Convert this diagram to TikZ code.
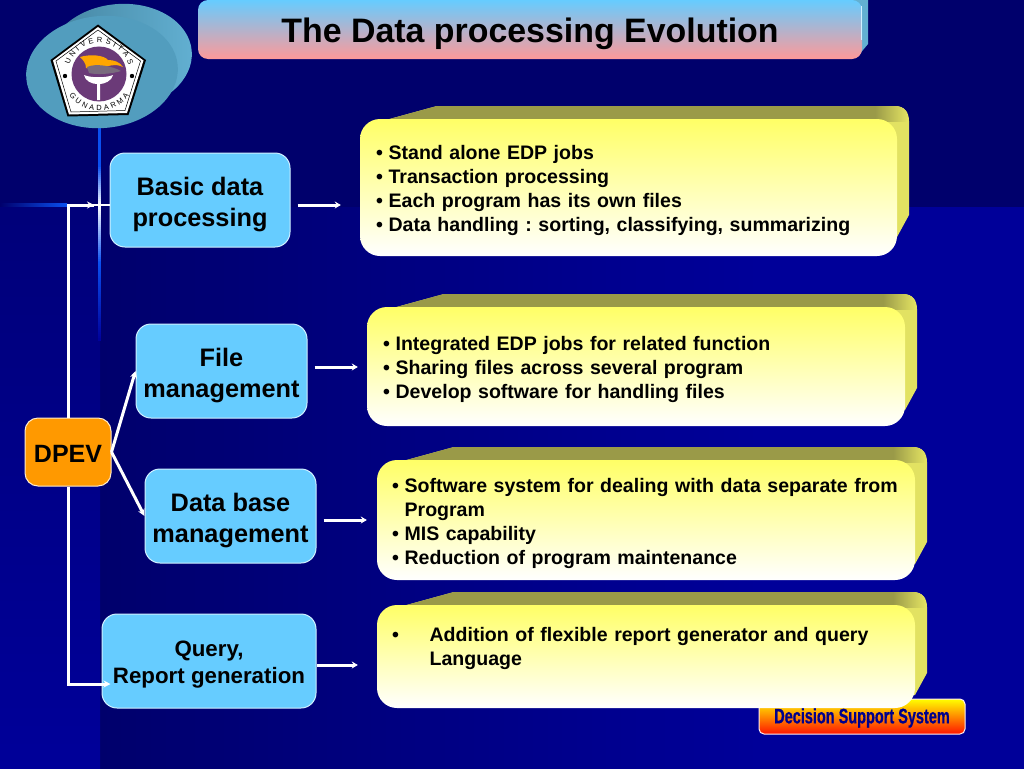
\documentclass[tikz,border=0pt]{standalone}
\usepackage{fontspec}
\setmainfont{Liberation Sans}
\newfontfamily\impactface[FakeStretch=0.69,FakeBold=0.6]{Liberation Sans}
\usetikzlibrary{arrows.meta,shapes.geometric,decorations.text,calc}
\frenchspacing
\definecolor{navy}{HTML}{00006C}
\definecolor{brightnavy}{HTML}{000099}
\definecolor{sky}{HTML}{66CCFF}
\definecolor{skyline}{HTML}{D0F0FF}
\definecolor{peach}{HTML}{FF9999}
\definecolor{lemon}{HTML}{FFFF66}
\definecolor{olive}{HTML}{9A9A48}
\definecolor{lemonside}{HTML}{E2E262}
\definecolor{glow}{HTML}{0A50F0}
\definecolor{grape}{HTML}{6B3A78}
\definecolor{tealfront}{HTML}{529DBE}
\definecolor{tealdark}{HTML}{44839F}
\definecolor{teallight}{HTML}{62B0D2}
\definecolor{dpevorange}{HTML}{FF9900}
\tikzset{
  sqbox/.style={draw=skyline,line width=1pt,fill=sky,rounded corners=15pt,inner sep=0pt,align=center,
    font=\fontsize{25.3}{31}\selectfont\bfseries,text=black},
  smallsq/.style={sqbox,font=\fontsize{22.3}{27}\selectfont\bfseries},
  orangebox/.style={draw=white!80!dpevorange,line width=1pt,fill=dpevorange,rounded corners=13pt,inner sep=0pt,
    font=\fontsize{25}{31}\selectfont\bfseries,text=black},
  yellowbox/.style={top color=lemon,bottom color=white,rounded corners=20pt,inner sep=0pt,
    font=\fontsize{19.55}{24}\selectfont\bfseries,text=black},
  link/.style={draw=white,line width=3pt},
  linktip/.style={link,-{Stealth[length=7pt,width=7pt]}},
  feed/.style={draw=white,line width=3pt,-{Stealth[length=6pt,width=7pt]}},
}
\newcommand{\bul}[1]{\makebox[12.6pt][l]{•}\mbox{#1}}
\newcommand{\dropby}[1]{\rule{0pt}{#1pt}}
% front x1,y1,x2,y2 ; side drop d1,d2
\newcommand{\bevelback}[6]{%
  \begin{scope}
  \clip ({#1+15},{#2+4}) -- ({#1+77},{#2-13}) -- ({#3-2},{#2-13})
    .. controls ({#3+7},{#2-13}) and ({#3+12},{#2-7}) .. ({#3+12},{#2+2})
    -- ({#3+12},{#4-#5}) -- ({#3},{#4-#6}) -- ({#3-30},{#4-#6}) -- cycle;
  \fill[lemonside] (#1,{#2-14}) rectangle ({#3+13},#4);
  \fill[olive] (#1,{#2-14}) rectangle ({#3-22},{#2+2});
  \shade[left color=olive,right color=lemonside] ({#3-22},{#2-14}) rectangle ({#3+10},{#2+2});
  \end{scope}}
\begin{document}
\begin{tikzpicture}[x=1pt,y=-1pt]
\useasboundingbox (0,0) rectangle (1024,768);
% background
\fill[navy] (-2,-2) rectangle (1026,207);
\shade[left color=navy,right color=brightnavy] (99,207) rectangle (760,770);
\fill[brightnavy] (759,207) rectangle (1026,770);
\shade[top color=navy!70!brightnavy,bottom color=brightnavy] (-2,207) rectangle (100,770);
% glow lines
\shade[left color=navy,right color=glow] (0,203.5) rectangle (67,206.5);
\fill[glow] (97.5,128) rectangle (100.5,165);
\foreach \t in {0,2,...,38}{
  \pgfmathsetmacro{\p}{\t/40*100}
  \fill[white!\p!glow] (97.5,165+\t) rectangle (100.5,167.5+\t);}
\foreach \t in {0,2,...,56}{
  \pgfmathsetmacro{\p}{100-\t/57*100}
  \fill[white!\p!glow] (97.5,205+\t) rectangle (100.5,207.5+\t);}
\foreach \t in {0,2,...,76}{
  \pgfmathsetmacro{\p}{\t/78*100}
  \fill[brightnavy!\p!glow] (97.5,262+\t) rectangle (100.5,264.5+\t);}
% logo
\shade[rotate around={5:(120,57)},left color=tealdark,right color=teallight] (120,57) ellipse [x radius=72,y radius=53];
\fill[tealfront,rotate around={5:(102,72)}] (102,72) ellipse [x radius=76,y radius=56];
\fill[black] (98,24.5) -- (146,60) -- (128.5,115) -- (67.5,116.5) -- (50.5,60) -- cycle;
\fill[white] (98,27) -- (143.5,60.5) -- (127,113) -- (69,114.5) -- (53,60.5) -- cycle;
\draw[black,line width=.5pt] (98,30) -- (140.5,61) -- (125,110.5) -- (71,112) -- (56,61) -- cycle;
\fill[grape] (99,74) circle [radius=27.5];
\fill[black] (65,76) circle [radius=2.2];
\fill[black] (132,76) circle [radius=2.2];
\path[decorate,decoration={text along path,text align={fit to path},text={|\fontsize{7.5}{8}\selectfont|UNIVERSITAS}}]
  (69.4,64.9) arc [start angle=163,end angle=17,radius=31pt];
\path[decorate,decoration={text along path,text align={fit to path},text={|\fontsize{7.5}{8}\selectfont|GUNADARMA}}]
  (69.1,95.7) arc [start angle=216,end angle=324,radius=37pt];
\fill[orange!70!yellow] (80,57) .. controls (90,54) and (104,55) .. (108,60) .. controls (114,60) and (120,62) .. (123,67) .. controls (112,62) and (110,68) .. (102,66) .. controls (96,69) and (90,69) .. (86,68) .. controls (86,63) and (83,60) .. (80,57) -- cycle;
\fill[gray!70!grape] (87,67) .. controls (96,63) and (112,66) .. (121,71) .. controls (112,74) and (96,75) .. (89,73) -- cycle;
\fill[white] (84,75) .. controls (90,78) and (107,78) .. (113,75) .. controls (112,81) and (104,84) .. (100,84) -- (100,100) -- (97,100) -- (97,84) .. controls (92,84) and (85,81) .. (84,75) -- cycle;
% title
\fill[teallight] (840,-2) -- (868,-2) -- (868,44) -- (858,56) -- (840,56) -- cycle;
\node[top color=sky,bottom color=peach,rounded corners=10pt,inner sep=0pt,minimum width=664pt,minimum height=59pt,
  font=\fontsize{33.9}{40}\selectfont\bfseries,text=black] (title) at (530,29.5) {\dropby{33}The Data processing Evolution};
\fill[skyline] (861,6) rectangle (862,40);
% footer tag
\node[top color=yellow,bottom color=red!85!orange,draw=white!85!peach,line width=1pt,rounded corners=5pt,inner sep=0pt,
  minimum width=206pt,minimum height=35pt,text=brightnavy!90!black,font=\impactface\fontsize{21}{24}\selectfont\bfseries] (dss) at (862,716.5) {\dropby{18}Decision Support System};
% yellow backs
\bevelback{360}{119}{897}{256}{41}{19}
\bevelback{367}{307}{905}{426}{38}{16}
\bevelback{377}{460}{915}{580}{38}{16}
\bevelback{377}{605}{915}{708}{35}{13}
% left boxes
\node[sqbox,minimum width=180pt,minimum height=94pt] (basic) at (200,200) {\dropby{28}Basic data\\processing};
\node[sqbox,minimum width=171pt,minimum height=94pt] (file) at (221.5,371) {\dropby{28}File\\management};
\node[sqbox,minimum width=171pt,minimum height=94pt] (dbase) at (230.5,516) {\dropby{28}Data base\\management};
\node[smallsq,minimum width=214pt,minimum height=94pt] (query) at (209,661) {\dropby{23}Query,\\Report generation};
\node[orangebox,minimum width=86pt,minimum height=68pt] (dpev) at (68,452) {\dropby{20}DPEV};
% yellow boxes
\node[yellowbox,minimum width=537pt,minimum height=137pt,align=left,text width=505pt] (y1) at (628.5,187.5)
  {\dropby{20}\bul{Stand alone EDP jobs}\\\bul{Transaction processing}\\\bul{Each program has its own files}\\\bul{Data handling : sorting, classifying, summarizing}};
\node[yellowbox,minimum width=538pt,minimum height=119pt,align=left,text width=506pt] (y2) at (636,366.5)
  {\dropby{20}\bul{Integrated EDP jobs for related function}\\\bul{Sharing files across several program}\\\bul{Develop software for handling files}};
\node[yellowbox,minimum width=538pt,minimum height=120pt,align=left,text width=508pt] (y3) at (646,520)
  {\dropby{22}\bul{Software system for dealing with data separate from}\\\hspace*{12.6pt}Program\\\bul{MIS capability}\\\bul{Reduction of program maintenance}};
\node[yellowbox,minimum width=538pt,minimum height=103pt,align=left,text width=508pt] (y4) at (646,656.5)
  {\dropby{18}\makebox[37.6pt][l]{•}Addition of flexible report generator and query\\\hspace*{37.6pt}Language\\\mbox{}};
% connectors
\coordinate (basicin) at (94,205);
\draw[white,line width=2pt] (67,205) -- (basic.west |- 0,205);
\draw[link] (dpev.north) |- (basicin);
\draw[linktip] (basicin) ++(-8,0) -- (basicin);
\draw[linktip] (dpev.south) |- ([shift={(9pt,-23pt)}]query.west);
\draw[linktip] (dpev.east) -- (file.west);
\draw[linktip] (dpev.east) -- (dbase.west);
\draw[feed] ([shift={(7pt,-5pt)}]basic.east) -- ([shift={(-19pt,-17.5pt)}]y1.west);
\draw[feed] ([shift={(7pt,4pt)}]file.east) -- ([shift={(-9pt,-0.5pt)}]y2.west);
\draw[feed] ([shift={(7pt,-4pt)}]dbase.east) -- ([shift={(-10pt,0pt)}]y3.west);
\draw[feed] ([shift={(0pt,-4pt)}]query.east) -- ([shift={(-19pt,-8.5pt)}]y4.west);
\end{tikzpicture}
\end{document}
